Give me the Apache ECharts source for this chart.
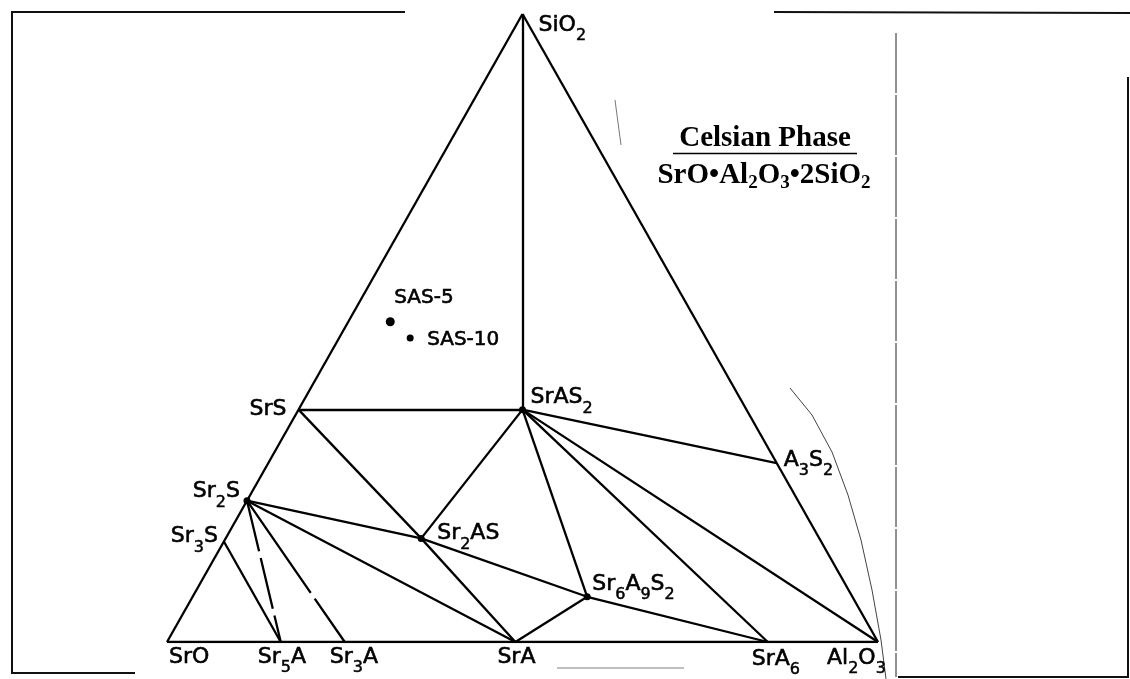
<!DOCTYPE html>
<html>
<head>
<meta charset="utf-8">
<script src="https://cdn.jsdelivr.net/npm/echarts@6/dist/echarts.min.js"></script>
<style>
  html, body { margin: 0; padding: 0; background: #fff; }
  #chart { width: 1130px; height: 679px; }
</style>
</head>
<body>
<div id="chart"></div>
<script>
// ---- Data: phases in the SrO–Al2O3–SiO2 system (weight fractions) ----
const phaseNames  = ['SiO2', 'SrO', 'Al2O3', 'SrS', 'Sr2S', 'Sr3S', 'Sr5A', 'Sr3A', 'SrA', 'SrA6', 'SrAS2', 'Sr2AS', 'Sr6A9S2', 'A3S2'];
const phaseSiO2   = [1.0,    0.0,   0.0,     0.37,  0.225,  0.16,   0.0,    0.0,    0.0,   0.0,    0.37,    0.165,   0.072,     0.285];
const phaseAl2O3  = [0.0,    0.0,   1.0,     0.0,   0.0,    0.0,    0.16,   0.25,   0.49,  0.845,  0.315,   0.275,   0.555,     0.715];
const phaseLabels = ['SiO{s|2}', 'SrO', 'Al{s|2}O{s|3}', 'SrS', 'Sr{s|2}S', 'Sr{s|3}S', 'Sr{s|5}A', 'Sr{s|3}A', 'SrA', 'SrA{s|6}', 'SrAS{s|2}', 'Sr{s|2}AS', 'Sr{s|6}A{s|9}S{s|2}', 'A{s|3}S{s|2}'];
const markedPhases = ['Sr2S', 'SrAS2', 'Sr2AS', 'Sr6A9S2'];

// Sample compositions
const sampleNames = ['SAS-5', 'SAS-10'];
const sampleSiO2  = [0.51, 0.484];
const sampleAl2O3 = [0.059, 0.10];

// Tie lines (pairs of phases)
const tieLines = [
  ['SrO', 'SiO2'], ['SiO2', 'Al2O3'], ['SrO', 'Al2O3'],
  ['SiO2', 'SrAS2'], ['SrS', 'SrAS2'], ['SrAS2', 'A3S2'], ['SrAS2', 'Al2O3'],
  ['SrAS2', 'SrA6'], ['SrAS2', 'Sr6A9S2'], ['SrAS2', 'Sr2AS'],
  ['SrS', 'Sr2AS'], ['Sr2AS', 'SrA'], ['Sr2S', 'Sr2AS'], ['Sr2AS', 'Sr6A9S2'],
  ['Sr6A9S2', 'SrA6'], ['SrA', 'Sr6A9S2'], ['Sr2S', 'SrA'], ['Sr3S', 'Sr5A']
];
const brokenTieLines = [['Sr2S', 'Sr5A'], ['Sr2S', 'Sr3A']];

// ---- Layout / style (not data) ----
const labelLayout = {
  'SiO2':    { align: 'left',  dx: 16,  dy: 11 },
  'SrO':     { align: 'left',  dx: 2,   dy: 15 },
  'Al2O3':   { align: 'left',  dx: -51, dy: 16 },
  'SrS':     { align: 'right', dx: -12, dy: 0 },
  'Sr2S':    { align: 'right', dx: -7,  dy: -9 },
  'Sr3S':    { align: 'right', dx: -6,  dy: -5 },
  'Sr5A':    { align: 'left',  dx: -23, dy: 15 },
  'Sr3A':    { align: 'left',  dx: -15, dy: 15 },
  'SrA':     { align: 'left',  dx: -18, dy: 15 },
  'SrA6':    { align: 'left',  dx: -16, dy: 17 },
  'SrAS2':   { align: 'left',  dx: 8,   dy: -12 },
  'Sr2AS':   { align: 'left',  dx: 16,  dy: -5 },
  'Sr6A9S2': { align: 'left',  dx: 5,   dy: -13 },
  'A3S2':    { align: 'left',  dx: 7,   dy: -3 },
  'SAS-5':   { align: 'left',  dx: 4,   dy: -24 },
  'SAS-10':  { align: 'left',  dx: 17,  dy: 2 }
};
const labelFont = 'DejaVu Sans';
const richSub = { s: { fontSize: 16, fontFamily: labelFont, color: '#000', textBorderColor: '#000', textBorderWidth: 0.5, padding: [22, 0, 0, 0] } };

// ternary -> cartesian (x along SrO→Al2O3, y = SiO2 fraction)
const toXY = (s, a) => [a + s / 2, s];
const pos = {};
phaseNames.forEach((n, i) => { pos[n] = toXY(phaseSiO2[i], phaseAl2O3[i]); });

function labelFor(name, text, size) {
  const l = labelLayout[name];
  return {
    show: true, position: 'inside', align: l.align, verticalAlign: 'middle',
    offset: [l.dx, l.dy], formatter: text, color: '#000',
    textBorderColor: '#000', textBorderWidth: 0.6,
    fontFamily: labelFont, fontSize: size || 22, rich: richSub
  };
}

const phaseData = phaseNames.map((n, i) => ({
  value: pos[n],
  symbolSize: markedPhases.includes(n) ? 7 : 0,
  label: labelFor(n, phaseLabels[i])
}));
const sampleData = sampleNames.map((n, i) => ({
  value: toXY(sampleSiO2[i], sampleAl2O3[i]),
  symbolSize: i === 0 ? 9 : 7,
  label: labelFor(n, n, 20)
}));

const solidLines = tieLines.map(([p, q]) => ({ coords: [pos[p], pos[q]] }));
const brokenLines = brokenTieLines.map(([p, q], i) => ({
  coords: [pos[p], pos[q]],
  lineStyle: { type: i === 0 ? [52, 7] : [112, 7] }
}));

const chart = echarts.init(document.getElementById('chart'));
chart.setOption({
  animation: false,
  backgroundColor: '#fff',
  grid: { left: 167, top: 14, width: 711, height: 628 },
  xAxis: { type: 'value', min: 0, max: 1, show: false },
  yAxis: { type: 'value', min: 0, max: 1, show: false },
  series: [
    {
      type: 'lines', coordinateSystem: 'cartesian2d', silent: true,
      lineStyle: { color: '#000', width: 2.3, opacity: 1 },
      data: solidLines
    },
    {
      type: 'lines', coordinateSystem: 'cartesian2d', silent: true,
      lineStyle: { color: '#000', width: 2.3, opacity: 1 },
      data: brokenLines
    },
    {
      type: 'scatter', symbol: 'circle', itemStyle: { color: '#000', opacity: 1 },
      data: phaseData, z: 5
    },
    {
      type: 'scatter', symbol: 'circle', itemStyle: { color: '#000', opacity: 1 },
      data: sampleData, z: 5
    }
  ],
  graphic: [
    // scanned page frame
    { type: 'polyline', shape: { points: [[405, 12], [12, 12], [12, 673], [135, 673]] }, style: { stroke: '#111', lineWidth: 2, fill: null } },
    { type: 'polyline', shape: { points: [[774, 12], [1130, 13]] }, style: { stroke: '#111', lineWidth: 2, fill: null } },
    { type: 'polyline', shape: { points: [[1128, 77], [1128, 677], [898, 677]] }, style: { stroke: '#111', lineWidth: 2, fill: null } },
    { type: 'polyline', shape: { points: [[896, 33], [896, 677]] }, style: { stroke: '#222', lineWidth: 1, lineDash: [60, 2], fill: null } },
    { type: 'polyline', shape: { points: [[557, 668], [684, 668]] }, style: { stroke: '#aaa', lineWidth: 1.5, fill: null } },
    { type: 'polyline', shape: { points: [[790, 388], [812, 415], [832, 452], [848, 495], [861, 540], [872, 590], [881, 640], [886, 679]] }, style: { stroke: '#444', lineWidth: 1, fill: null, smooth: 0.3 } },
    { type: 'polyline', shape: { points: [[615, 100], [621, 145]] }, style: { stroke: '#777', lineWidth: 1, fill: null } },
    // title
    { type: 'text', x: 765, y: 124, style: { text: 'Celsian Phase', textAlign: 'center', textVerticalAlign: 'top', fontFamily: 'Liberation Serif', fontWeight: 'bold', fontSize: 29, fill: '#000' } },
    { type: 'line', shape: { x1: 673, y1: 153.5, x2: 857, y2: 153.5 }, style: { stroke: '#000', lineWidth: 1.6 } },
    { type: 'text', x: 764, y: 158, style: {
        text: 'SrO•Al{s|2}O{s|3}•2SiO{s|2}', textAlign: 'center', textVerticalAlign: 'top',
        fontFamily: 'Liberation Serif', fontWeight: 'bold', fontSize: 29, fill: '#000',
        rich: { s: { fontFamily: 'Liberation Serif', fontWeight: 'bold', fontSize: 19, fill: '#000', padding: [16, 0, 0, 0] } }
      } }
  ]
});
</script>
</body>
</html>
